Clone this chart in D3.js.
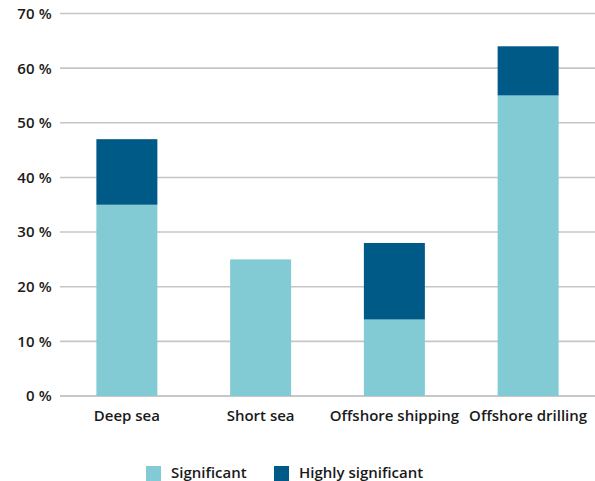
<!DOCTYPE html>
<html>
<head>
<meta charset="utf-8">
<script src="https://cdn.jsdelivr.net/npm/d3@7"></script>
<style>
  body { margin: 0; background: #fff; }
  text { font-family: "Open Sans", "Noto Sans", sans-serif; fill: #1a1a1a; }
</style>
</head>
<body>
<div id="chart"></div>
<script>
var categories = ["Deep sea", "Short sea", "Offshore shipping", "Offshore drilling"];
var significant = [35, 25, 14, 55];
var highlySignificant = [12, 0, 14, 9];
var yTicks = [0, 10, 20, 30, 40, 50, 60, 70];
var seriesNames = ["Significant", "Highly significant"];
var colors = ["#82cbd4", "#005a87"];

var w = 595,
    h = 481,
    plotLeft = 60,
    plotRight = 595,
    plotTop = 13.5,
    plotBottom = 396;

var svg = d3.select("#chart").append("svg")
    .attr("width", w)
    .attr("height", h);

var x = d3.scaleBand()
    .domain(categories)
    .range([plotLeft, plotRight])
    .paddingInner(0.544)
    .paddingOuter(0.272);

var y = d3.scaleLinear()
    .domain([0, 70])
    .range([plotBottom, plotTop]);

// gridlines
svg.append("g")
    .selectAll("line")
    .data(yTicks)
    .enter().append("line")
    .attr("x1", plotLeft)
    .attr("x2", plotRight)
    .attr("y1", function(d) { return y(d); })
    .attr("y2", function(d) { return y(d); })
    .attr("stroke", function(d) { return d == 0 ? "#b4b4b4" : "#c6c6c6"; })
    .attr("stroke-width", 1.6);

// y labels
svg.append("g")
    .selectAll("text")
    .data(yTicks)
    .enter().append("text")
    .attr("x", 52)
    .attr("y", function(d) { return y(d); })
    .attr("dy", "0.36em")
    .attr("text-anchor", "end")
    .style("font-size", "15px")
    .style("font-weight", 600)
    .style("letter-spacing", "0.2px")
    .text(function(d) { return d + " %"; });

// stacked bars
var rows = categories.map(function(c, i) {
    return { cat: c, Significant: significant[i], "Highly significant": highlySignificant[i] };
});
var stack = d3.stack().keys(seriesNames)(rows);

svg.append("g")
    .selectAll("g")
    .data(stack)
    .enter().append("g")
    .attr("fill", function(d, i) { return colors[i]; })
    .selectAll("rect")
    .data(function(d) { return d; })
    .enter().append("rect")
    .attr("x", function(d) { return x(d.data.cat); })
    .attr("width", x.bandwidth())
    .attr("y", function(d) { return y(d[1]); })
    .attr("height", function(d) { return y(d[0]) - y(d[1]); });

// category labels
svg.append("g")
    .selectAll("text")
    .data(categories)
    .enter().append("text")
    .attr("x", function(d) { return x(d) + x.bandwidth() / 2; })
    .attr("y", 421)
    .attr("text-anchor", "middle")
    .style("font-size", "15px")
    .style("font-weight", 600)
    .text(function(d) { return d; });

// legend
var legendX = [146, 274];
var legend = svg.append("g")
    .selectAll("g")
    .data(seriesNames)
    .enter().append("g")
    .attr("transform", function(d, i) { return "translate(" + legendX[i] + ",466)"; });

legend.append("rect")
    .attr("width", 15)
    .attr("height", 15)
    .attr("fill", function(d, i) { return colors[i]; });

legend.append("text")
    .attr("x", 25)
    .attr("y", 12)
    .style("font-size", "15px")
    .style("font-weight", 600)
    .text(function(d) { return d; });
</script>
</body>
</html>
